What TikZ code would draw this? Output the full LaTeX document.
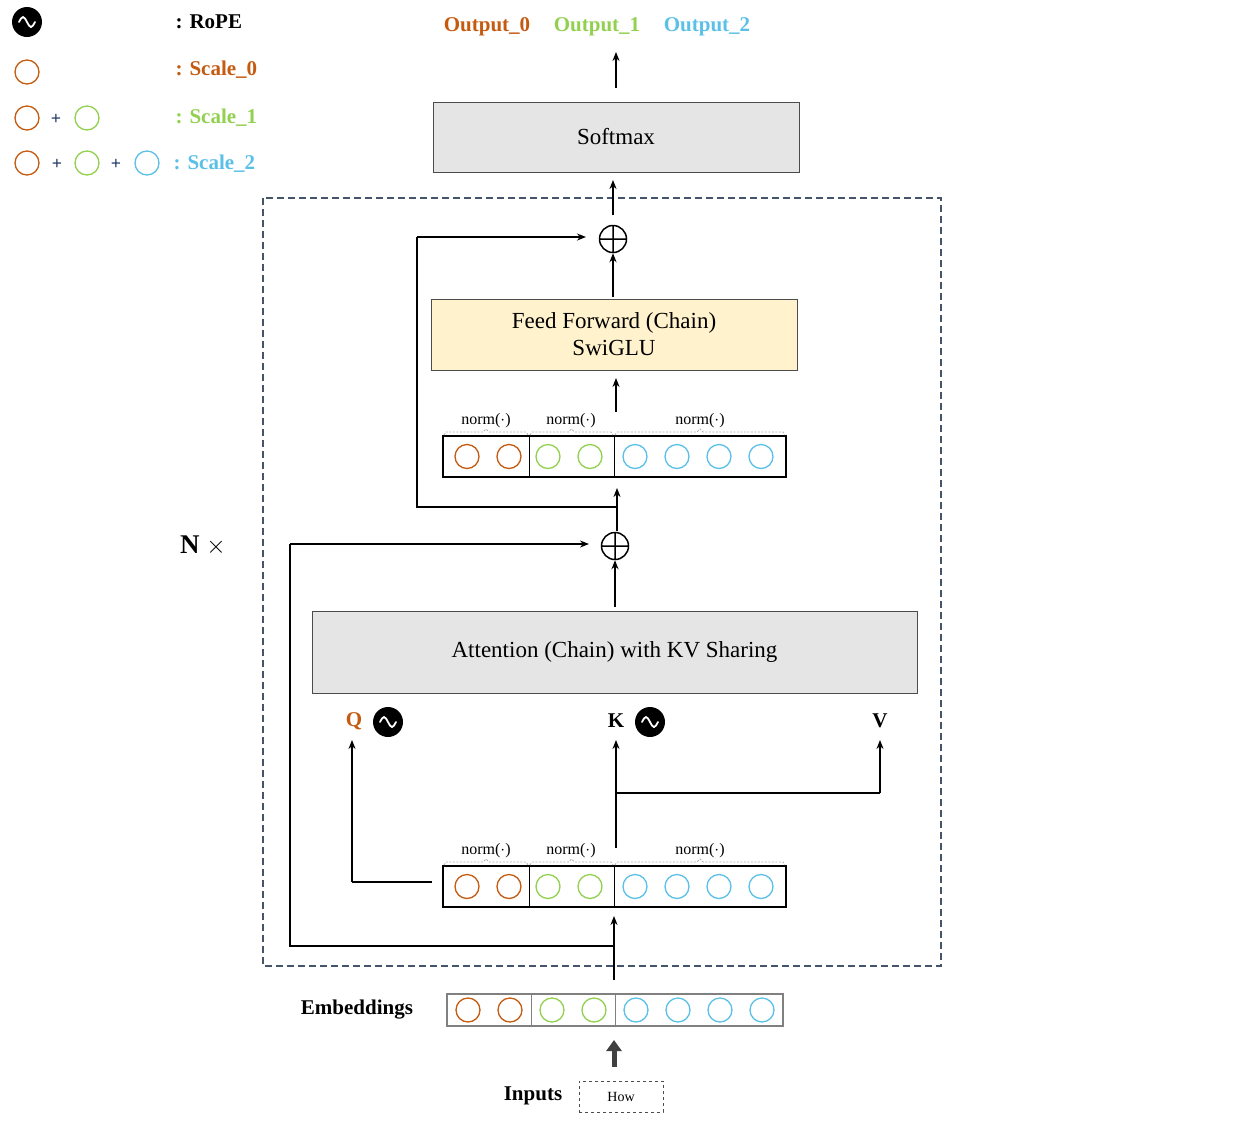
\documentclass[tikz,border=0pt]{standalone}
\usepackage{fontspec}
\setmainfont{Liberation Serif}
\usetikzlibrary{arrows.meta,calc}
\definecolor{cO}{RGB}{197,90,17}
\definecolor{cG}{RGB}{146,208,80}
\definecolor{cB}{RGB}{91,192,232}
\definecolor{cC}{RGB}{68,84,106}
\definecolor{cP}{RGB}{31,56,100}
\definecolor{cY}{RGB}{255,242,204}
\tikzset{
 ar/.style={line width=2pt,-{Stealth[length=9pt,width=7pt]}},
 ln/.style={line width=2pt},
 dot/.style={circle,draw,line width=1.3pt,minimum size=24pt,inner sep=0pt},
 rope/.style={circle,fill=black,minimum size=30pt,inner sep=0pt},
 lbl/.style={font=\fontsize{21}{22}\selectfont\bfseries},
 nrm/.style={font=\fontsize{16}{16}\selectfont},
 brk/.style={draw=gray!60,dashed,dash pattern=on 2pt off 1.5pt,line width=0.9pt}
}
\newcommand\ropewave[1]{\draw[white,line width=1.8pt,line cap=round] ($(#1)+(-8,0)$) sin ($(#1)+(-4,-5)$) cos ($(#1)+(0,0)$) sin ($(#1)+(4,5)$) cos ($(#1)+(8,0)$);}
\begin{document}
\begin{tikzpicture}[x=1pt,y=-1pt]
\useasboundingbox (0,0) rectangle (1235,1128);
% legend
\node[rope] (lr) at (27,22) {}; \ropewave{lr}
\node[dot,draw=cO] (l1) at (27,72) {};
\node[dot,draw=cO] (l2a) at (27,118) {};
\node[dot,draw=cG] (l2b) at (87,118) {};
\node[dot,draw=cO] (l3a) at (27,163) {};
\node[dot,draw=cG] (l3b) at (87,163) {};
\node[dot,draw=cB] (l3c) at (147,163) {};
\node[text=cP,font=\fontsize{18}{18}\selectfont\bfseries] (p1) at (56,119) {+};
\node[text=cP,font=\fontsize{18}{18}\selectfont\bfseries] (p2) at (57,164) {+};
\node[text=cP,font=\fontsize{18}{18}\selectfont\bfseries] (p3) at (116,164) {+};
\node[lbl,anchor=west] (t0) at (172,22) {: RoPE};
\node[lbl,anchor=west,text=cO] (t1) at (172,70) {: Scale\_0};
\node[lbl,anchor=west,text=cG] (t2) at (172,118) {: Scale\_1};
\node[lbl,anchor=west,text=cB] (t3) at (170,164) {: Scale\_2};
% outputs
\node[lbl,text=cO] (o0) at (487,27) {Output\_0};
\node[lbl,text=cG] (o1) at (597,27) {Output\_1};
\node[lbl,text=cB] (o2) at (707,27) {Output\_2};
% container
\draw[cC,line width=1.2pt,dash pattern=on 7pt off 4pt] (263,198) rectangle (941,966);
\node[font=\fontsize{27}{27}\selectfont\bfseries] (nx) at (203,546) {N $\times$};
% boxes
\node[draw=black!70,line width=1pt,fill=gray!20,minimum width=366pt,minimum height=70pt,font=\fontsize{23}{24}\selectfont] (soft) at (616,137) {Softmax};
\node[draw=black!70,line width=1pt,fill=cY,minimum width=366pt,minimum height=71pt,align=center,font=\fontsize{23}{27}\selectfont] (ff) at (614,334.5) {Feed Forward (Chain)\\SwiGLU};
\node[draw=black!70,line width=1pt,fill=gray!20,minimum width=605pt,minimum height=82pt,font=\fontsize{23}{24}\selectfont] (att) at (614.5,652) {Attention (Chain) with KV Sharing};
% oplus
\node[circle,inner sep=0pt,minimum size=28pt] (op1) at (613,239) {};
\draw[line width=1.5pt] (op1) circle (13.5) (613,225.5)--(613,252.5) (599.5,239)--(626.5,239);
\node[circle,inner sep=0pt,minimum size=28pt] (op2) at (615,546) {};
\draw[line width=1.5pt] (op2) circle (13.5) (615,532.5)--(615,559.5) (601.5,546)--(628.5,546);
% rows
\foreach \nm/\yt/\yb/\yc in {up/436/477/456.5, lo/866/907/886.5}{
 \draw[line width=1.8pt] (443,\yt) rectangle (786,\yb);
 \draw[line width=1pt] (529,\yt)--(529,\yb) (614,\yt)--(614,\yb);
 \foreach \x/\c in {467/cO,509/cO,548/cG,590/cG,635/cB,677/cB,719/cB,761/cB}
   \node[dot,draw=\c] at (\x,\yc) {};
 \foreach \a/\b in {443/529,529/614,614/786}{
   \pgfmathsetmacro\m{(\a+\b)/2}
   \draw[brk] (\a+1,\yt-1) -- (\a+3,\yt-4) -- (\m-3,\yt-4) -- (\m,\yt-7) -- (\m+3,\yt-4) -- (\b-3,\yt-4) -- (\b-1,\yt-1);}
 \node[nrm] at (486,\yt-15) {norm($\cdot$)};
 \node[nrm] at (571,\yt-15) {norm($\cdot$)};
 \node[nrm] at (700,\yt-15) {norm($\cdot$)};
}
% embeddings
\draw[gray,line width=1.3pt] (447,994) rectangle (783,1026);
\draw[gray,line width=1pt] (531,994)--(531,1026) (615,994)--(615,1026);
\foreach \x/\c in {468/cO,510/cO,552/cG,594/cG,636/cB,678/cB,720/cB,762/cB}
  \node[dot,draw=\c] at (\x,1010) {};
\node[lbl] (emb) at (357,1010) {Embeddings};
\node[lbl] (inp) at (533,1096) {Inputs};
\node[draw=black!70,dashed,line width=0.8pt,minimum width=84pt,minimum height=31pt,font=\fontsize{14}{14}\selectfont] (how) at (621,1096.5) {How};
\draw[black!75,line width=5pt,-{Triangle[length=11pt,width=15pt]}] (614,1067)--(614,1040);
% labels Q K V
\node[lbl,text=cO] (Q) at (354,721) {Q};
\node[rope] (rq) at (388,722) {}; \ropewave{rq}
\node[lbl] (K) at (616,721) {K};
\node[rope] (rk) at (650,722) {}; \ropewave{rk}
\node[lbl] (V) at (880,721) {V};
% arrows
\coordinate (otop) at (616,52);
\draw[ar] (616,88)--(otop);
\draw[ar] (613,215)--(613,180);
\draw[ar] (613,297)--(op1.south);
\draw[ar] (616,412)--(616,378);
\draw[ln] (617,522)--(617,507)--(417,507)--(417,237);
\draw[ar] (417,237)--(586,237);
\draw[ar] (617,531)--(617,488);
\draw[ar] (615,607)--(op2.south);
\draw[ln] (614,946)--(290,946)--(290,544);
\draw[ar] (290,544)--(589,544);
\draw[ar] (614,980)--(614,916);
\draw[ln] (432,882)--(352,882);
\draw[ar] (352,882)--(352,740);
\draw[ar] (616,848)--(616,740);
\draw[ln] (616,793)--(880,793);
\draw[ar] (880,793)--(880,740);
\end{tikzpicture}
\end{document}
